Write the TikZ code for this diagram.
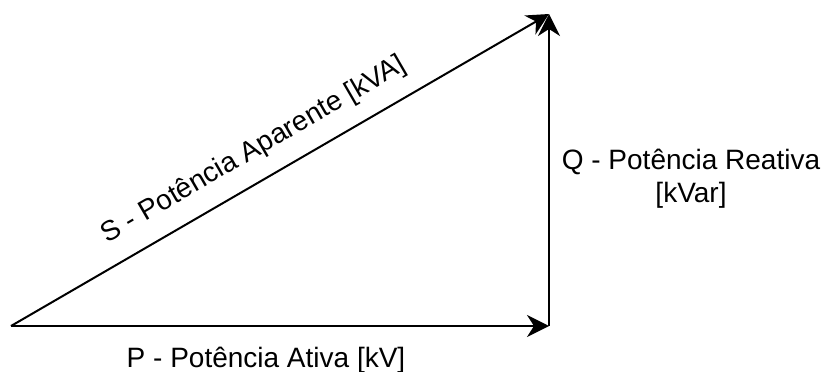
\documentclass[tikz,border=0pt]{standalone}
\usepackage{fontspec}
\setmainfont{Liberation Sans}
\usetikzlibrary{arrows.meta}
\begin{document}
\begin{tikzpicture}[x=1pt,y=-1pt,
  vec/.style={line width=2pt,-{Stealth[length=22pt,width=22pt,inset=7pt]}},
  lbl/.style={font=\fontsize{28}{33}\selectfont,align=center,inner sep=0pt}]
\useasboundingbox (0,0) rectangle (825,372);
\coordinate (O) at (11,326);
\coordinate (A) at (549,326);
\coordinate (B) at (549,14);
\draw[vec] (O) -- (A);
\draw[vec] (A) -- (B);
\draw[vec] (O) -- (B) node[lbl,pos=0.48,sloped,above=16pt] (s) {S - Potência Aparente [kVA]};
\node[lbl,anchor=base] (p) at (266,367) {P - Potência Ativa [kV]};
\node[lbl,anchor=base] (q) at (691,202) {Q - Potência Reativa\\{}[kVar]};
\end{tikzpicture}
\end{document}
